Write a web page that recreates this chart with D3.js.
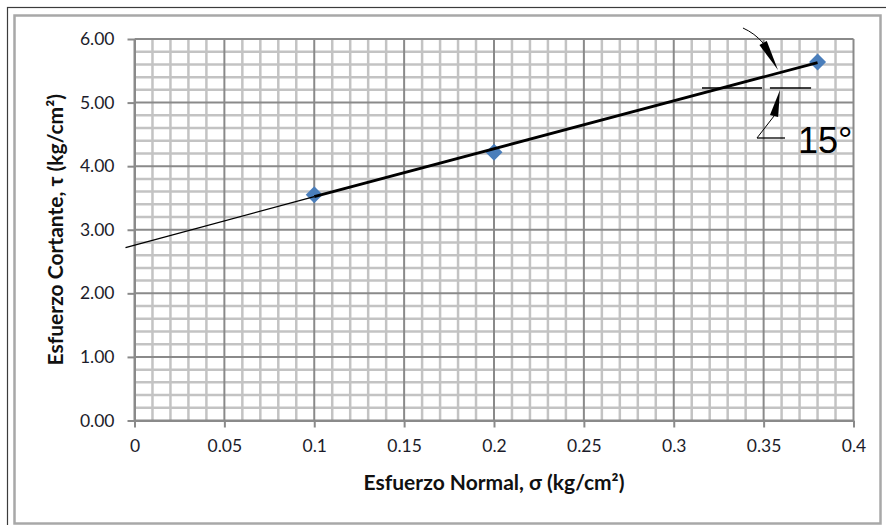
<!DOCTYPE html>
<html>
<head>
<meta charset="utf-8">
<script src="https://cdn.jsdelivr.net/npm/d3@7"></script>
<style>
  body { margin: 0; background: #ffffff; }
  svg { display: block; }
</style>
</head>
<body>
<svg id="chart" width="886" height="525"></svg>
<script>
// Direct shear test results: normal stress vs. shear stress
const sigma = [0.1, 0.2, 0.38];          // kg/cm²
const tau = [3.55, 4.22, 5.64];          // kg/cm²

// Failure envelope (thin extension, then thick segment)
const envSigma = [-0.005, 0.1, 0.38];
const envTau = [2.72, 3.52, 5.63];

const xTicks = [0, 0.05, 0.1, 0.15, 0.2, 0.25, 0.3, 0.35, 0.4];
const xTickLabels = ["0", "0.05", "0.1", "0.15", "0.2", "0.25", "0.3", "0.35", "0.4"];
const yTicks = [0, 1, 2, 3, 4, 5, 6];
const yTickLabels = ["0.00", "1.00", "2.00", "3.00", "4.00", "5.00", "6.00"];

const xTitle = "Esfuerzo Normal, σ (kg/cm²)";
const yTitle = "Esfuerzo Cortante, τ (kg/cm²)";
const angleLabel = "15°";

const svg = d3.select("#chart");
const W = 886, H = 525;
const plot = { left: 134.5, right: 853.5, top: 39, bottom: 420.5 };

const x = d3.scaleLinear().domain([0, 0.4]).range([plot.left, plot.right]);
const y = d3.scaleLinear().domain([0, 6]).range([plot.bottom, plot.top]);

// chart frame (outer dark line, inner grey line)
svg.append("rect").attr("width", W).attr("height", H).attr("fill", "#ffffff");
svg.append("rect")
  .attr("x", 7.5).attr("y", 7.5).attr("width", 892).attr("height", 530)
  .attr("fill", "none").attr("stroke", "#3c3c3c").attr("stroke-width", 1.2);
svg.append("rect")
  .attr("x", 14.5).attr("y", 15.5).attr("width", 866).attr("height", 508)
  .attr("fill", "#ffffff").attr("stroke", "#a8a8a8").attr("stroke-width", 2.5);

// minor grid: every 0.01 on σ, every 0.2 on τ
const minorX = d3.range(0, 41).filter(i => i % 5 !== 0).map(i => i / 100);
const minorY = d3.range(0, 31).filter(j => j % 5 !== 0).map(j => j / 5);
const grid = svg.append("g");
grid.selectAll("line.mx").data(minorX).join("line")
  .attr("x1", d => x(d)).attr("x2", d => x(d))
  .attr("y1", plot.top).attr("y2", plot.bottom)
  .attr("stroke", "#c3c3c3").attr("stroke-width", 2.5);
grid.selectAll("line.my").data(minorY).join("line")
  .attr("x1", plot.left).attr("x2", plot.right)
  .attr("y1", d => y(d)).attr("y2", d => y(d))
  .attr("stroke", "#c3c3c3").attr("stroke-width", 2.5);

// major grid
grid.selectAll("line.MX").data(xTicks).join("line")
  .attr("x1", d => x(d)).attr("x2", d => x(d))
  .attr("y1", plot.top).attr("y2", plot.bottom)
  .attr("stroke", "#8a8a8a").attr("stroke-width", 2);
grid.selectAll("line.MY").data(yTicks).join("line")
  .attr("x1", plot.left).attr("x2", plot.right)
  .attr("y1", d => y(d)).attr("y2", d => y(d))
  .attr("stroke", "#8a8a8a").attr("stroke-width", 2);

// axes
const xAxis = d3.axisBottom(x).tickValues(xTicks)
  .tickFormat((d, i) => xTickLabels[i]).tickSizeInner(7).tickSizeOuter(0).tickPadding(12);
const yAxis = d3.axisLeft(y).tickValues(yTicks)
  .tickFormat((d, i) => yTickLabels[i]).tickSizeInner(7).tickSizeOuter(0).tickPadding(13);

const gx = svg.append("g").attr("transform", `translate(0,${plot.bottom})`).call(xAxis);
const gy = svg.append("g").attr("transform", `translate(${plot.left},0)`).call(yAxis);
[gx, gy].forEach(g => {
  g.select(".domain").attr("stroke", "#8a8a8a").attr("stroke-width", 2);
  g.selectAll(".tick line").attr("stroke", "#8a8a8a").attr("stroke-width", 2);
  g.selectAll(".tick text")
    .attr("fill", "#1c1c2a")
    .style("font-family", "Lato, 'Open Sans', sans-serif")
    .style("font-size", "17.5px");
});

// axis titles
svg.append("text")
  .attr("x", (plot.left + plot.right) / 2).attr("y", 490)
  .attr("text-anchor", "middle")
  .style("font-family", "Lato, 'Open Sans', sans-serif")
  .style("font-size", "21px").style("font-weight", "bold")
  .attr("fill", "#111111")
  .text(xTitle);
svg.append("text")
  .attr("transform", `translate(63,${(plot.top + plot.bottom) / 2}) rotate(-90)`)
  .attr("text-anchor", "middle")
  .style("font-family", "Lato, 'Open Sans', sans-serif")
  .style("font-size", "21px").style("font-weight", "bold")
  .attr("fill", "#111111")
  .text(yTitle);

// data points (diamonds)
const diamond = s => `M0,${-s}L${s},0L0,${s}L${-s},0Z`;
svg.append("g").selectAll("path").data(sigma).join("path")
  .attr("d", diamond(8.5))
  .attr("transform", (d, i) => `translate(${x(d)},${y(tau[i])})`)
  .attr("fill", "#4a7ebb");

// failure envelope
const env = envSigma.map((s, i) => [x(s), y(envTau[i])]);
svg.append("line")
  .attr("x1", env[0][0]).attr("y1", env[0][1])
  .attr("x2", env[1][0]).attr("y2", env[1][1])
  .attr("stroke", "#000000").attr("stroke-width", 1.3);
svg.append("line")
  .attr("x1", env[1][0]).attr("y1", env[1][1])
  .attr("x2", env[2][0]).attr("y2", env[2][1])
  .attr("stroke", "#000000").attr("stroke-width", 2.8);

// friction angle annotation (positions in σ, τ units)
const ann = svg.append("g").attr("stroke", "#000000").attr("fill", "none");
const P = (s, t) => [x(s), y(t)];

// horizontal reference, drawn in two pieces
[[0.3157, 0.3491], [0.3535, 0.3764]].forEach(([a, b]) => {
  const p1 = P(a, 5.229), p2 = P(b, 5.229);
  ann.append("line").attr("x1", p1[0]).attr("y1", p1[1]).attr("x2", p2[0]).attr("y2", p2[1])
    .attr("stroke-width", 1.3);
});

function arrowHead(tip, base, half) {
  const dx = tip[0] - base[0], dy = tip[1] - base[1];
  const len = Math.hypot(dx, dy);
  const nx = -dy / len, ny = dx / len;
  return `M${tip[0]},${tip[1]}L${base[0] + nx * half},${base[1] + ny * half}` +
         `L${base[0] - nx * half},${base[1] - ny * half}Z`;
}

// upper dimension arrow
const uStart = P(0.3385, 6.173), uCtrl = P(0.3450, 6.090), uEnd = P(0.3497, 5.937);
const uTip = P(0.3580, 5.513);
ann.append("path")
  .attr("d", `M${uStart[0]},${uStart[1]}Q${uCtrl[0]},${uCtrl[1]} ${uEnd[0]},${uEnd[1]}`)
  .attr("stroke-width", 1);
ann.append("path").attr("d", arrowHead(uTip, uEnd, 4.2))
  .attr("fill", "#000000").attr("stroke", "none");

// lower dimension arrow
const lTip = P(0.3591, 5.198), lBase = P(0.3558, 4.789), lEnd = P(0.3463, 4.443);
ann.append("path").attr("d", arrowHead(lTip, lBase, 4.2))
  .attr("fill", "#000000").attr("stroke", "none");
ann.append("line")
  .attr("x1", lBase[0]).attr("y1", lBase[1]).attr("x2", lEnd[0]).attr("y2", lEnd[1])
  .attr("stroke-width", 1);
const hEnd = P(0.3619, 4.443);
ann.append("line")
  .attr("x1", lEnd[0]).attr("y1", lEnd[1]).attr("x2", hEnd[0]).attr("y2", hEnd[1])
  .attr("stroke-width", 1.3);

const tPos = P(0.3691, 4.207);
svg.append("text")
  .attr("x", tPos[0]).attr("y", tPos[1])
  .style("font-family", "'Liberation Sans', Arial, sans-serif")
  .style("font-size", "36px")
  .attr("fill", "#000000")
  .text(angleLabel);
</script>
</body>
</html>
